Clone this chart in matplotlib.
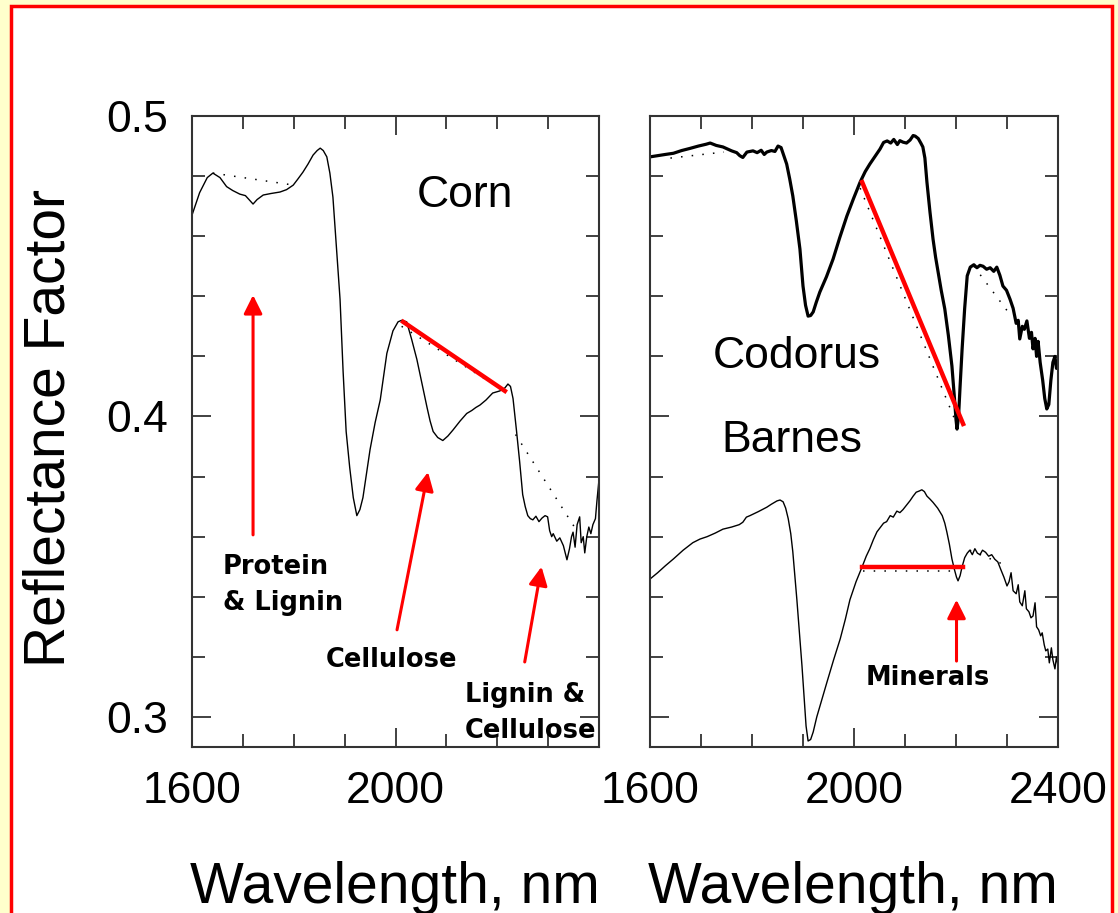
"""Reflectance spectra of corn residue and two soils (Codorus, Barnes)
in the 1600-2400 nm region, with the main absorption features marked.
"""
import matplotlib

matplotlib.use("Agg")
import matplotlib.pyplot as plt
from matplotlib.patches import Rectangle
from matplotlib.ticker import MultipleLocator

plt.rcParams["font.family"] = ["Liberation Sans", "DejaVu Sans"]

# --- corn residue spectrum -------------------------------------------------
CORN_WL = [
    1600, 1615, 1630, 1641, 1655, 1668, 1680, 1694, 1705, 1712, 1720, 1728,
    1740, 1755, 1773, 1786, 1799, 1808, 1818, 1828, 1838, 1846, 1852, 1858,
    1865, 1871, 1877, 1884, 1891, 1897, 1903, 1910, 1917, 1924, 1930, 1936,
    1943, 1950, 1960, 1970, 1983, 1995, 2005, 2012, 2022, 2032, 2042, 2052,
    2062, 2068, 2074, 2083, 2093, 2103, 2113, 2127, 2140, 2150, 2158, 2166,
    2178, 2191, 2205, 2215, 2221, 2226, 2231, 2238, 2244, 2250, 2255, 2260,
    2265, 2270, 2276, 2282, 2288, 2294, 2299, 2303, 2307, 2310, 2317, 2323,
    2330, 2337, 2342, 2346, 2349, 2353, 2357, 2362, 2365, 2369, 2372, 2376,
    2380, 2384, 2388, 2393, 2396, 2400,
]
CORN_REFL = [
    0.4670, 0.4745, 0.4795, 0.4810, 0.4795, 0.4765, 0.4752, 0.4740, 0.4735,
    0.4722, 0.4707, 0.4722, 0.4737, 0.4742, 0.4747, 0.4755, 0.4770, 0.4790,
    0.4813, 0.4840, 0.4870, 0.4885, 0.4893, 0.4885, 0.4864, 0.4810, 0.4730,
    0.4560, 0.4390, 0.4150, 0.3950, 0.3830, 0.3730, 0.3670, 0.3690, 0.3730,
    0.3810, 0.3890, 0.3980, 0.4055, 0.4210, 0.4285, 0.4315, 0.4320, 0.4315,
    0.4255, 0.4190, 0.4110, 0.4030, 0.3985, 0.3950, 0.3930, 0.3920, 0.3935,
    0.3955, 0.3985, 0.4010, 0.4020, 0.4030, 0.4038, 0.4055, 0.4078, 0.4085,
    0.4095, 0.4108, 0.4100, 0.4060, 0.3950, 0.3850, 0.3740, 0.3700, 0.3670,
    0.3660, 0.3656, 0.3668, 0.3650, 0.3662, 0.3670, 0.3666, 0.3620, 0.3600,
    0.3610, 0.3585, 0.3596, 0.3570, 0.3523, 0.3560, 0.3600, 0.3615, 0.3565,
    0.3640, 0.3666, 0.3580, 0.3600, 0.3546, 0.3600, 0.3632, 0.3610, 0.3640,
    0.3660, 0.3720, 0.3790,
]
# convex-hull continuum segments (dotted)
CORN_HULL = [
    ([1641, 1800], [0.4810, 0.4770]),
    ([2012, 2218], [0.4300, 0.4080]),
    ([2236, 2360], [0.3940, 0.3610]),
]
# cellulose band depth line (red)
CORN_BAND_WL = [2015, 2215]
CORN_BAND_REFL = [0.4315, 0.4085]

# --- Codorus soil spectrum -------------------------------------------------
CODORUS_WL = [
    1600, 1615, 1630, 1646, 1662, 1678, 1695, 1710, 1718, 1730, 1743, 1760,
    1770, 1776, 1782, 1790, 1802, 1810, 1818, 1824, 1829, 1838, 1845, 1851,
    1857, 1862, 1868, 1874, 1880, 1887, 1894, 1900, 1905, 1910, 1915, 1920,
    1926, 1933, 1946, 1959, 1972, 1986, 1999, 2012, 2022, 2031, 2041, 2051,
    2058, 2065, 2072, 2078, 2085, 2090, 2096, 2103, 2110, 2116, 2120, 2126,
    2131, 2135, 2139, 2143, 2149, 2155, 2160, 2165, 2171, 2178, 2185, 2192,
    2197, 2200, 2202, 2205, 2208, 2212, 2217, 2222, 2228, 2235, 2241, 2247,
    2253, 2260, 2267, 2274, 2280, 2286, 2292, 2299, 2306, 2312, 2318, 2322,
    2325, 2330, 2334, 2339, 2344, 2348, 2351, 2355, 2358, 2361, 2365, 2370,
    2374, 2378, 2382, 2386, 2390, 2394, 2397, 2400,
]
CODORUS_REFL = [
    0.4864, 0.4868, 0.4872, 0.4876, 0.4885, 0.4892, 0.4900, 0.4906, 0.4910,
    0.4902, 0.4897, 0.4884, 0.4878, 0.4868, 0.4862, 0.4880, 0.4884, 0.4878,
    0.4886, 0.4872, 0.4880, 0.4885, 0.4882, 0.4900, 0.4895, 0.4870, 0.4840,
    0.4790, 0.4734, 0.4650, 0.4557, 0.4434, 0.4370, 0.4334, 0.4336, 0.4348,
    0.4380, 0.4414, 0.4465, 0.4524, 0.4595, 0.4667, 0.4725, 0.4780, 0.4815,
    0.4840, 0.4865, 0.4890, 0.4912, 0.4917, 0.4910, 0.4922, 0.4905, 0.4918,
    0.4913, 0.4910, 0.4920, 0.4935, 0.4933, 0.4925, 0.4910, 0.4897, 0.4860,
    0.4780, 0.4680, 0.4590, 0.4530, 0.4480, 0.4420, 0.4358, 0.4270, 0.4168,
    0.4060, 0.3990, 0.3958, 0.4000, 0.4100, 0.4225, 0.4360, 0.4468, 0.4497,
    0.4505, 0.4495, 0.4503, 0.4500, 0.4490, 0.4495, 0.4483, 0.4497, 0.4470,
    0.4434, 0.4420, 0.4390, 0.4360, 0.4310, 0.4320, 0.4258, 0.4300, 0.4290,
    0.4318, 0.4260, 0.4280, 0.4225, 0.4260, 0.4200, 0.4250, 0.4180, 0.4120,
    0.4060, 0.4025, 0.4040, 0.4120, 0.4180, 0.4200, 0.4160, 0.4180,
]
CODORUS_HULL = [
    ([1640, 1745], [0.4860, 0.4880]),
    ([2012, 2200], [0.4760, 0.3980]),
    ([2235, 2310], [0.4500, 0.4330]),
]
CODORUS_BAND_WL = [2016, 2214]
CODORUS_BAND_REFL = [0.4780, 0.3975]

# --- Barnes soil spectrum --------------------------------------------------
BARNES_WL = [
    1600, 1615, 1630, 1646, 1665, 1684, 1698, 1712, 1728, 1743, 1760, 1775,
    1782, 1789, 1796, 1812, 1829, 1838, 1849, 1855, 1861, 1866, 1871, 1876,
    1880, 1884, 1888, 1893, 1898, 1902, 1906, 1910, 1915, 1920, 1927, 1937,
    1947, 1960, 1973, 1983, 1992, 2004, 2016, 2024, 2031, 2038, 2045, 2058,
    2064, 2071, 2077, 2084, 2090, 2096, 2103, 2110, 2116, 2122, 2128, 2133,
    2138, 2143, 2149, 2155, 2164, 2173, 2178, 2182, 2187, 2192, 2197, 2201,
    2204, 2208, 2212, 2217, 2222, 2227, 2232, 2237, 2242, 2247, 2252, 2258,
    2264, 2270, 2276, 2282, 2288, 2294, 2300, 2304, 2308, 2312, 2318, 2322,
    2325, 2330, 2335, 2338, 2343, 2347, 2351, 2355, 2358, 2362, 2366, 2369,
    2373, 2376, 2380, 2383, 2387, 2390, 2394, 2397, 2400,
]
BARNES_REFL = [
    0.3459, 0.3480, 0.3503, 0.3526, 0.3555, 0.3580, 0.3592, 0.3600, 0.3612,
    0.3625, 0.3632, 0.3640, 0.3648, 0.3665, 0.3670, 0.3683, 0.3698, 0.3708,
    0.3719, 0.3722, 0.3716, 0.3695, 0.3660, 0.3610, 0.3550, 0.3470, 0.3390,
    0.3280, 0.3170, 0.3070, 0.2970, 0.2920, 0.2925, 0.2950, 0.3000, 0.3058,
    0.3116, 0.3190, 0.3260, 0.3325, 0.3390, 0.3450, 0.3500, 0.3535, 0.3560,
    0.3590, 0.3616, 0.3645, 0.3650, 0.3670, 0.3665, 0.3685, 0.3680, 0.3690,
    0.3705, 0.3720, 0.3735, 0.3748, 0.3752, 0.3756, 0.3750, 0.3735, 0.3725,
    0.3714, 0.3695, 0.3670, 0.3645, 0.3616, 0.3575, 0.3526, 0.3490, 0.3465,
    0.3453, 0.3470, 0.3500, 0.3530, 0.3545, 0.3555, 0.3540, 0.3560, 0.3545,
    0.3540, 0.3555, 0.3548, 0.3535, 0.3540, 0.3525, 0.3516, 0.3490, 0.3465,
    0.3436, 0.3450, 0.3480, 0.3420, 0.3410, 0.3440, 0.3383, 0.3370, 0.3420,
    0.3360, 0.3350, 0.3330, 0.3336, 0.3380, 0.3300, 0.3290, 0.3270, 0.3280,
    0.3240, 0.3220, 0.3226, 0.3180, 0.3230, 0.3190, 0.3160, 0.3200, 0.3170,
]
BARNES_HULL = [
    ([2018, 2205], [0.3485, 0.3485]),
    ([2227, 2290], [0.3555, 0.3510]),
]
BARNES_BAND_WL = [2016, 2214]
BARNES_BAND_REFL = [0.3500, 0.3500]

XTICKS = [1600, 2000, 2400]
LEFT_XTICK_LABELS = ["1600", "2000", ""]
RIGHT_XTICK_LABELS = ["1600", "2000", "2400"]
YTICKS = [0.3, 0.4, 0.5]
YTICK_LABELS = ["0.3", "0.4", "0.5"]

# (label, text position, arrow tail, arrow tip)
CORN_NOTES = [
    ("Protein\n& Lignin", (1661, 0.3440), (1720, 0.3606), (1720, 0.4404)),
    ("Cellulose", (1863, 0.3190), (2003, 0.3290), (2064, 0.3815)),
    ("Lignin &\nCellulose", (2137, 0.3012), (2254, 0.3183), (2287, 0.3500)),
]
SOIL_NOTES = [
    ("Minerals", (2022, 0.3130), (2201, 0.3186), (2201, 0.3390)),
]

RED = "#ff0000"
NOTE_FONT = dict(family="DejaVu Sans", weight="bold", fontsize=18.5)


def _style_axes(ax, xlabels, show_y):
    ax.set_xlim(1600, 2400)
    ax.set_ylim(0.29, 0.5)
    ax.set_xticks(XTICKS)
    ax.set_xticklabels(xlabels)
    ax.set_yticks(YTICKS)
    ax.set_yticklabels(YTICK_LABELS if show_y else [])
    ax.xaxis.set_minor_locator(MultipleLocator(100))
    ax.yaxis.set_minor_locator(MultipleLocator(0.02))
    ax.tick_params(which="both", direction="in", top=True, right=True,
                   color="#333333", width=1.3, labelsize=32, pad=17)
    ax.tick_params(which="major", length=14)
    ax.tick_params(which="minor", length=9.5)
    for s in ax.spines.values():
        s.set_color("#333333")
        s.set_linewidth(1.5)


def _hulls(ax, segments):
    for xs, ys in segments:
        ax.plot(xs, ys, color="black", lw=1.1, ls=(0, (1, 6)))


def _notes(ax, notes):
    for label, (tx, ty), tail, tip in notes:
        ax.text(tx, ty, label, ha="left", va="center", linespacing=1.5,
                **NOTE_FONT)
        ax.annotate("", xy=tip, xytext=tail,
                    arrowprops=dict(arrowstyle="-|>", color=RED, lw=2.2,
                                    mutation_scale=28, shrinkA=0, shrinkB=0))


def main():
    fig = plt.figure(figsize=(11.18, 9.13), dpi=100, facecolor="#ffffcc")
    fig.patches.append(Rectangle(
        (11 / 1118, -0.05), 1101 / 1118, 1.05 - 6 / 913,
        transform=fig.transFigure, facecolor="white", edgecolor=RED,
        linewidth=2.5, zorder=-10))

    ax1 = fig.add_axes([192 / 1118, 1 - 747 / 913, 407 / 1118, 631 / 913])
    ax2 = fig.add_axes([650 / 1118, 1 - 747 / 913, 408 / 1118, 631 / 913])

    # corn residue
    _hulls(ax1, CORN_HULL)
    ax1.plot(CORN_WL, CORN_REFL, color="black", lw=1.0)
    ax1.plot(CORN_BAND_WL, CORN_BAND_REFL, color=RED, lw=3.2)
    ax1.text(2137, 0.4737, "Corn", fontsize=32, ha="center", va="center")
    _notes(ax1, CORN_NOTES)
    _style_axes(ax1, LEFT_XTICK_LABELS, True)

    # soils
    _hulls(ax2, CODORUS_HULL)
    _hulls(ax2, BARNES_HULL)
    ax2.plot(CODORUS_WL, CODORUS_REFL, color="black", lw=2.3)
    ax2.plot(BARNES_WL, BARNES_REFL, color="black", lw=1.0)
    ax2.plot(CODORUS_BAND_WL, CODORUS_BAND_REFL, color=RED, lw=3.2)
    ax2.plot(BARNES_BAND_WL, BARNES_BAND_REFL, color=RED, lw=3.2)
    ax2.text(1888, 0.4201, "Codorus", fontsize=32, ha="center", va="center")
    ax2.text(1878, 0.3920, "Barnes", fontsize=32, ha="center", va="center")
    _notes(ax2, SOIL_NOTES)
    _style_axes(ax2, RIGHT_XTICK_LABELS, False)

    fig.text(50 / 1118, 1 - 428 / 913, "Reflectance Factor", rotation=90,
             fontsize=41, ha="center", va="center")
    for cx in (395, 853):
        fig.text(cx / 1118, 1 - 903 / 913, "Wavelength, nm", fontsize=41,
                 ha="center", va="baseline")

    fig.savefig("out.png", dpi=100, facecolor=fig.get_facecolor())
    plt.close(fig)


if __name__ == "__main__":
    main()
